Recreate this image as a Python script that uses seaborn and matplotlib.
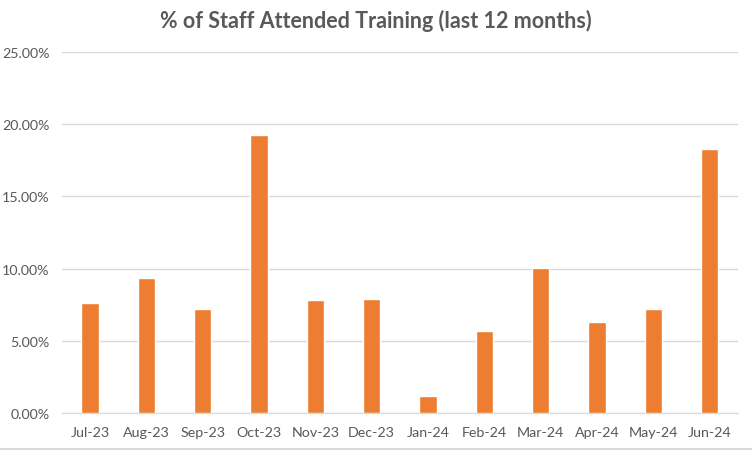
import matplotlib
matplotlib.use("Agg")
import matplotlib.pyplot as plt
import matplotlib.ticker as mticker
from matplotlib.lines import Line2D
import seaborn as sns
import pandas as pd
import numpy as np

# Monthly share of staff who attended training
months = ['Jul-23', 'Aug-23', 'Sep-23', 'Oct-23', 'Nov-23', 'Dec-23',
          'Jan-24', 'Feb-24', 'Mar-24', 'Apr-24', 'May-24', 'Jun-24']
attended = [0.0765, 0.0933, 0.0723, 0.1928, 0.0783, 0.0790,
            0.0120, 0.0569, 0.1007, 0.0627, 0.0719, 0.1831]

df = pd.DataFrame({'Month': months, 'Attended': attended})

sns.set_style("white")
plt.rcParams['font.family'] = ['Lato', 'DejaVu Sans']

fig = plt.figure(figsize=(7.52, 4.52), dpi=100)
ax = fig.add_axes([0.0824, 0.084, 0.8986, 0.799])

sns.barplot(data=df, x='Month', y='Attended', color='#ED7D31', width=0.31,
            saturation=1, ax=ax, zorder=3)

ax.set_ylim(0, 0.25)
ax.set_xlim(-0.5, len(months) - 0.5)
ax.yaxis.set_major_locator(mticker.MultipleLocator(0.05))
ax.yaxis.set_major_formatter(mticker.PercentFormatter(1.0, decimals=2))
ax.grid(axis='y', color='#D9D9D9', linewidth=1, zorder=0)

for side in ['top', 'right', 'left']:
    ax.spines[side].set_visible(False)
ax.spines['bottom'].set_color('#D9D9D9')

# category boundary ticks like Excel
ax.set_xticks(np.arange(-0.5, len(months)), minor=True)
ax.tick_params(axis='x', which='minor', length=5, color='#D9D9D9', width=1)
ax.tick_params(axis='x', which='major', length=0, pad=9, labelsize=10.3, labelcolor='#595959')
ax.tick_params(axis='y', length=0, pad=9, labelsize=10.3, labelcolor='#595959')
ax.set_xlabel('')
ax.set_ylabel('')

fig.suptitle('% of Staff Attended Training (last 12 months)', y=0.978,
             fontsize=15.5, fontweight='bold', color='#595959')

# chart-area border at the bottom
fig.add_artist(Line2D([0, 1], [0.004, 0.004], color='#D9D9D9', linewidth=1.5,
                      transform=fig.transFigure))

fig.savefig('out.png', dpi=100)
